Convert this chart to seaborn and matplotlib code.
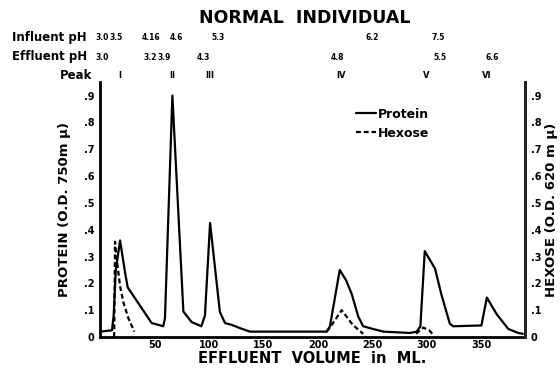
import matplotlib
matplotlib.use("Agg")
import matplotlib.pyplot as plt
import matplotlib.transforms as mtransforms
import numpy as np
import pandas as pd
import seaborn as sns

# protein curve (effluent ml, O.D. 750 m mu)
protein_ml = [0, 11, 12.5, 14.5, 18.4, 23, 25.4, 47.4, 58, 59.6, 66.4, 76.5, 84, 93,
              96.3, 101, 110, 114.7, 121, 128.5, 137.6, 208, 211, 220, 226, 231, 237,
              241.5, 250.5, 260, 284.5, 290.6, 294, 298, 307.4, 313.5, 321, 324, 350,
              355, 364, 374.7, 383.8, 388]
protein_od = [0.02, 0.025, 0.08, 0.25, 0.36, 0.24, 0.185, 0.052, 0.04, 0.07, 0.9, 0.095,
              0.056, 0.04, 0.08, 0.425, 0.093, 0.052, 0.045, 0.033, 0.02, 0.02, 0.04, 0.25,
              0.21, 0.16, 0.076, 0.04, 0.03, 0.02, 0.015, 0.02, 0.04, 0.32, 0.255, 0.155,
              0.05, 0.04, 0.043, 0.147, 0.085, 0.03, 0.015, 0.012]

# hexose curve (O.D. 620 m mu), three separate pieces
hexose_ml = [13, 13.8, 15.3, 18.4, 21.4, 26, 31.5,
             208, 211, 221.8, 232, 241.5,
             290, 296.7, 302, 306]
hexose_od = [0.0, 0.355, 0.29, 0.19, 0.13, 0.07, 0.02,
             0.02, 0.035, 0.1, 0.045, 0.012,
             0.012, 0.035, 0.025, 0.008]
hexose_seg = [1] * 7 + [2] * 5 + [3] * 4

influent_ph = ["3.0", "3.5", "4.16", "4.6", "5.3", "6.2", "7.5"]
influent_ml = [1.8, 14.7, 46.8, 69.7, 108.3, 249.6, 310]
effluent_ph = ["3.0", "3.2", "3.9", "4.3", "4.8", "5.5", "6.6"]
effluent_ml = [1.8, 45.9, 58.7, 94.6, 217.5, 312, 360]
peak_names = ["I", "II", "III", "IV", "V", "VI"]
peak_ml = [18.4, 66.4, 101, 221, 299, 355]

x_ticks = [50, 100, 150, 200, 250, 300, 350]
y_ticks = [0, 0.1, 0.2, 0.3, 0.4, 0.5, 0.6, 0.7, 0.8, 0.9]
y_ticklabels = ["0", ".1", ".2", ".3", ".4", ".5", ".6", ".7", ".8", ".9"]

df = pd.concat([
    pd.DataFrame({"ml": protein_ml, "od": protein_od, "series": "Protein", "seg": 0}),
    pd.DataFrame({"ml": hexose_ml, "od": hexose_od, "series": "Hexose", "seg": hexose_seg}),
], ignore_index=True)

sns.set_style("white")
plt.rcParams["font.family"] = ["DejaVu Sans"]
plt.rcParams["font.weight"] = "bold"
for key in ["text.color", "axes.labelcolor", "xtick.color", "ytick.color"]:
    plt.rcParams[key] = "black"

fig = plt.figure(figsize=(5.6, 3.7), dpi=100)
ax = fig.add_axes([0.1786, 0.0892, 0.7589, 0.6888])

sns.lineplot(data=df, x="ml", y="od", style="series", units="seg", estimator=None,
             dashes={"Protein": "", "Hexose": (2.2, 1.3)}, color="black",
             linewidth=1.6, ax=ax)

ax.set_xlim(0, 390)
ax.set_ylim(0, 0.95)
ax.set_xticks(x_ticks)
ax.set_xticklabels([str(t) for t in x_ticks], fontsize=7, fontweight="bold")
ax.set_yticks(y_ticks)
ax.set_yticklabels(y_ticklabels, fontsize=7, fontweight="bold")
ax.tick_params(axis="y", length=0, pad=4)
ax.tick_params(axis="x", length=0, pad=2)
ax.spines["top"].set_visible(False)
for side in ["left", "bottom", "right"]:
    ax.spines[side].set_linewidth(2)
    ax.spines[side].set_color("black")
ax.set_xlabel("EFFLUENT  VOLUME  in  ML.", fontsize=10.5, fontweight="bold", labelpad=1)
ax.set_ylabel("PROTEIN (O.D. 750m \u00b5)", fontsize=9.5, fontweight="bold", labelpad=9)

ax2 = ax.twinx()
ax2.set_ylim(ax.get_ylim())
ax2.set_yticks(y_ticks)
ax2.set_yticklabels(y_ticklabels, fontsize=7, fontweight="bold")
ax2.tick_params(length=0, pad=4)
for side in ["top", "left", "bottom"]:
    ax2.spines[side].set_visible(False)
ax2.spines["right"].set_linewidth(2)
ax2.set_ylabel("HEXOSE (O.D. 620 m \u00b5)", fontsize=9.5, fontweight="bold",
               rotation=90, labelpad=3)

leg = ax.legend(loc="upper left", bbox_to_anchor=(0.59, 0.92), frameon=False,
                fontsize=9, handlelength=1.6, handletextpad=0.2, labelspacing=0.5,
                borderaxespad=0)
for t in leg.get_texts():
    t.set_fontweight("bold")

# header rows
fig.text(0.545, 0.952, "NORMAL  INDIVIDUAL", ha="center", va="center",
         fontsize=12.5, fontweight="bold")
fig.text(0.021, 0.9, "Influent pH", ha="left", va="center", fontsize=8.5, fontweight="bold")
fig.text(0.021, 0.846, "Effluent pH", ha="left", va="center", fontsize=8.5, fontweight="bold")
fig.text(0.164, 0.797, "Peak", ha="right", va="center", fontsize=8.5, fontweight="bold")

trans = mtransforms.blended_transform_factory(ax.transData, fig.transFigure)
for lab, xv in zip(influent_ph, influent_ml):
    ax.text(xv, 0.898, lab, transform=trans, ha="center", va="center", fontsize=5.5,
            fontweight="bold")
for lab, xv in zip(effluent_ph, effluent_ml):
    ax.text(xv, 0.845, lab, transform=trans, ha="center", va="center", fontsize=5.5,
            fontweight="bold")
for lab, xv in zip(peak_names, peak_ml):
    ax.text(xv, 0.797, lab, transform=trans, ha="center", va="center", fontsize=6,
            fontweight="bold")

fig.savefig("out.png", dpi=100)
